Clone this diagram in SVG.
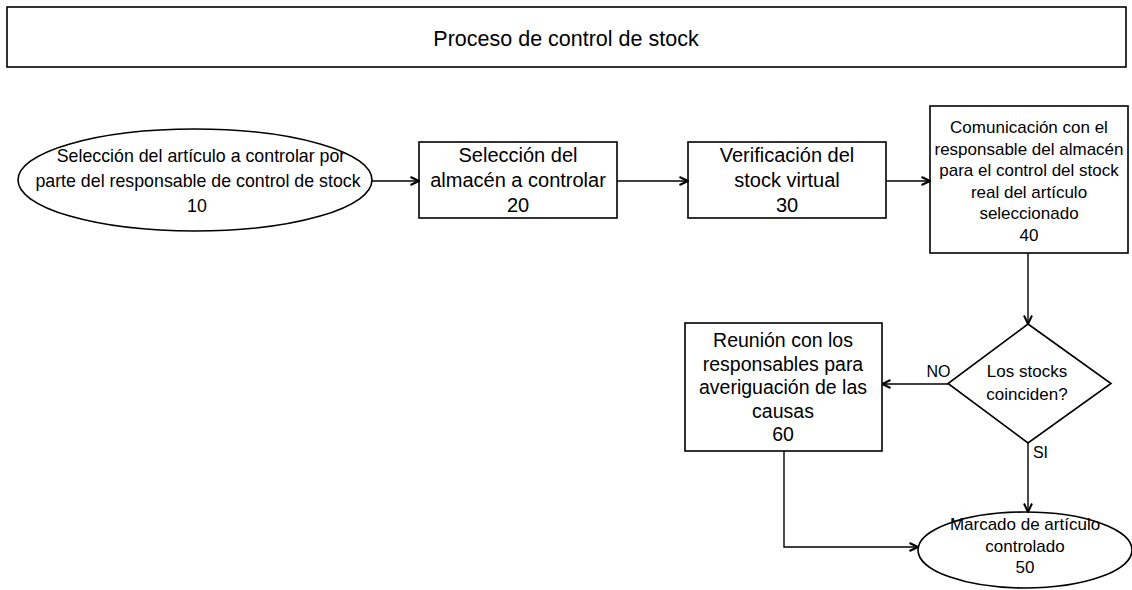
<svg xmlns="http://www.w3.org/2000/svg" width="1132" height="590" viewBox="0 0 1132 590">
<style>
.s{fill:#fff;stroke:#000;stroke-width:1.6}
.t{font-family:"Liberation Sans",Arial,sans-serif;fill:#000;text-anchor:middle}
.c{fill:none;stroke:#000;stroke-width:1.4}
</style>
<defs>
<marker id="ah" viewBox="0 0 10 10" refX="9.5" refY="5" markerWidth="10" markerHeight="10" markerUnits="userSpaceOnUse" orient="auto">
<path d="M1,1 L9.5,5 L1,9" fill="none" stroke="#000" stroke-width="2"/>
</marker>
</defs>
<rect width="1132" height="590" fill="#fff"/>
<g id="title">
<rect class="s" x="7" y="7" width="1119" height="60"/>
<text class="t" x="566" y="46" font-size="21.5">Proceso de control de stock</text>
</g>
<g id="n10">
<ellipse class="s" cx="195" cy="180" rx="177" ry="51"/>
<text class="t" font-size="17.8"><tspan x="201" y="162">Selección del artículo a controlar por</tspan><tspan x="198" y="187">parte del responsable de control de stock</tspan><tspan x="197" y="212">10</tspan></text>
</g>
<g id="n20">
<rect class="s" x="419" y="142" width="198" height="76"/>
<text class="t" font-size="20"><tspan x="518" y="162">Selección del</tspan><tspan x="518" y="187">almacén a controlar</tspan><tspan x="518" y="212">20</tspan></text>
</g>
<g id="n30">
<rect class="s" x="688" y="142" width="198" height="76"/>
<text class="t" font-size="20"><tspan x="787" y="162">Verificación del</tspan><tspan x="787" y="187">stock virtual</tspan><tspan x="787" y="212">30</tspan></text>
</g>
<g id="n40">
<rect class="s" x="930" y="106" width="198" height="147"/>
<text class="t" font-size="17"><tspan x="1029" y="133">Comunicación con el</tspan><tspan x="1029" y="155">responsable del almacén</tspan><tspan x="1029" y="176">para el control del stock</tspan><tspan x="1029" y="198">real del artículo</tspan><tspan x="1029" y="219">seleccionado</tspan><tspan x="1029" y="241">40</tspan></text>
</g>
<g id="decision">
<polygon class="s" points="1028,324 1111,383.5 1028,443 948,383.5"/>
<text class="t" font-size="17"><tspan x="1027" y="377">Los stocks</tspan><tspan x="1027" y="400">coinciden?</tspan></text>
</g>
<g id="n60">
<rect class="s" x="685" y="323" width="197" height="128"/>
<text class="t" font-size="19.5"><tspan x="783" y="347">Reunión con los</tspan><tspan x="783" y="370.5">responsables para</tspan><tspan x="783" y="394">averiguación de las</tspan><tspan x="783" y="417.5">causas</tspan><tspan x="783" y="441">60</tspan></text>
</g>
<g id="n50">
<ellipse class="s" cx="1025" cy="550" rx="107" ry="38"/>
<text class="t" font-size="17"><tspan x="1025" y="530">Marcado de artículo</tspan><tspan x="1025" y="552">controlado</tspan><tspan x="1025" y="573">50</tspan></text>
</g>
<g id="connectors">
<path class="c" d="M372,181 H419" marker-end="url(#ah)"/>
<path class="c" d="M617,181 H688" marker-end="url(#ah)"/>
<path class="c" d="M886,181 H930" marker-end="url(#ah)"/>
<path class="c" d="M1028,253 V324" marker-end="url(#ah)"/>
<path class="c" d="M948,384 H882" marker-end="url(#ah)"/>
<path class="c" d="M1028,443 V512" marker-end="url(#ah)"/>
<path class="c" d="M784,451 V547 H918" marker-end="url(#ah)"/>
<text class="t" x="938.5" y="377" font-size="16">NO</text>
<text class="t" x="1040.5" y="458" font-size="16">SI</text>
</g>
</svg>
